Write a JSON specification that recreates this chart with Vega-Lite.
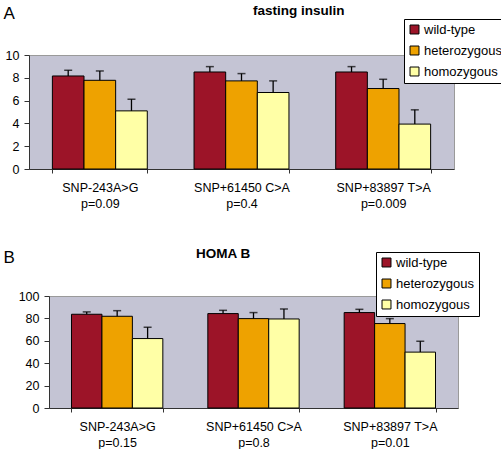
{
  "$schema": "https://vega.github.io/schema/vega-lite/v6.json",
  "padding": {"left": 2, "top": 3, "right": 0, "bottom": 0},
  "config": {
    "font": "Liberation Sans",
    "view": {"stroke": null},
    "axis": {"labelColor": "black", "domainColor": "#333333", "tickColor": "#333333", "grid": false},
    "axisY": {"labelOverlap": false}
  },
  "datasets": {
    "insulin": [
      {"snp": "SNP-243A>G|p=0.09", "genotype": "wild-type", "value": 8.16, "upper": 8.66},
      {"snp": "SNP-243A>G|p=0.09", "genotype": "heterozygous", "value": 7.78, "upper": 8.6},
      {"snp": "SNP-243A>G|p=0.09", "genotype": "homozygous", "value": 5.1, "upper": 6.12},
      {"snp": "SNP+61450 C>A|p=0.4", "genotype": "wild-type", "value": 8.51, "upper": 8.98},
      {"snp": "SNP+61450 C>A|p=0.4", "genotype": "heterozygous", "value": 7.73, "upper": 8.37},
      {"snp": "SNP+61450 C>A|p=0.4", "genotype": "homozygous", "value": 6.71, "upper": 7.73},
      {"snp": "SNP+83897 T>A|p=0.009", "genotype": "wild-type", "value": 8.51, "upper": 8.98},
      {"snp": "SNP+83897 T>A|p=0.009", "genotype": "heterozygous", "value": 7.06, "upper": 7.87},
      {"snp": "SNP+83897 T>A|p=0.009", "genotype": "homozygous", "value": 3.94, "upper": 5.19}
    ],
    "homa": [
      {"snp": "SNP-243A>G|p=0.15", "genotype": "wild-type", "value": 83.7, "upper": 85.8},
      {"snp": "SNP-243A>G|p=0.15", "genotype": "heterozygous", "value": 81.9, "upper": 86.9},
      {"snp": "SNP-243A>G|p=0.15", "genotype": "homozygous", "value": 62.0, "upper": 72.1},
      {"snp": "SNP+61450 C>A|p=0.8", "genotype": "wild-type", "value": 84.3, "upper": 87.2},
      {"snp": "SNP+61450 C>A|p=0.8", "genotype": "heterozygous", "value": 79.8, "upper": 85.2},
      {"snp": "SNP+61450 C>A|p=0.8", "genotype": "homozygous", "value": 79.5, "upper": 88.4},
      {"snp": "SNP+83897 T>A|p=0.01", "genotype": "wild-type", "value": 85.2, "upper": 88.1},
      {"snp": "SNP+83897 T>A|p=0.01", "genotype": "heterozygous", "value": 75.4, "upper": 79.8},
      {"snp": "SNP+83897 T>A|p=0.01", "genotype": "homozygous", "value": 49.9, "upper": 59.6}
    ]
  },
  "spacing": 36,
  "resolve": {
    "scale": {"x": "independent", "y": "independent", "xOffset": "independent", "color": "independent"},
    "legend": {"color": "independent"},
    "axis": {"x": "independent", "y": "independent"}
  },
  "vconcat": [
    {
      "width": 425,
      "height": 114,
      "view": {"fill": "#c4c4d4", "stroke": "#9a9a9a"},
      "data": {"name": "insulin"},
      "title": {"text": "fasting insulin", "anchor": "start", "frame": "group", "dx": 224, "dy": 24, "offset": 0, "fontSize": 13.5, "fontWeight": "bold", "color": "black", "baseline": "alphabetic"},
      "encoding": {
        "x": {"field": "snp", "type": "nominal", "sort": null,
          "scale": {"paddingInner": 0.33, "paddingOuter": 0.165},
          "axis": {"title": null, "labelAngle": 0, "tickBand": "extent", "tickSize": 4, "labelPadding": 8, "labelFontSize": 12.5, "labelLineHeight": 16, "labelExpr": "split(datum.label, '|')"}},
        "xOffset": {"field": "genotype", "type": "nominal", "sort": ["wild-type", "heterozygous", "homozygous"], "scale": {"paddingInner": 0, "paddingOuter": 0}}
      },
      "layer": [
        {
          "mark": {"type": "bar", "stroke": "black", "strokeWidth": 1},
          "encoding": {
            "y": {"field": "value", "type": "quantitative", "scale": {"domain": [0, 10]},
              "axis": {"title": "A", "titleAngle": 0, "titleX": -26, "titleY": -37, "titleAlign": "left", "titleBaseline": "alphabetic", "titleFontSize": 17, "titleFontWeight": "normal", "titleColor": "black", "values": [0, 2, 4, 6, 8, 10], "labelOverlap": false, "tickSize": 5, "labelPadding": 5, "labelFontSize": 12.5}},
            "color": {"field": "genotype", "type": "nominal",
              "scale": {"domain": ["wild-type", "heterozygous", "homozygous"], "range": ["#9c1428", "#eea200", "#ffffa6"]},
              "legend": {"title": null, "orient": "none", "legendX": 375, "legendY": -36, "strokeColor": "black", "fillColor": "white", "padding": 4, "symbolType": "square", "symbolSize": 80, "symbolStrokeColor": "black", "symbolStrokeWidth": 1, "labelFontSize": 13, "labelColor": "black", "rowPadding": 7, "labelOffset": 3, "labelLimit": 200}}
          }
        },
        {
          "mark": {"type": "rule", "color": "black", "strokeWidth": 1.3},
          "encoding": {"y": {"field": "value", "type": "quantitative", "axis": {"values": [0, 2, 4, 6, 8, 10], "labelOverlap": false}}, "y2": {"field": "upper"}}
        },
        {
          "mark": {"type": "tick", "color": "black", "size": 8, "thickness": 1.5},
          "encoding": {"y": {"field": "upper", "type": "quantitative", "axis": {"values": [0, 2, 4, 6, 8, 10], "labelOverlap": false}}}
        }
      ]
    },
    {
      "spacing": 0,
      "bounds": "flush",
      "hconcat": [
        {
          "width": 20,
          "height": 10,
          "view": {"stroke": null, "fill": null},
          "data": {"values": [{}]},
          "mark": {"type": "point", "opacity": 0}
        },
        {
          "width": 409,
          "height": 112,
          "view": {"fill": "#c4c4d4", "stroke": "#9a9a9a"},
          "data": {"name": "homa"},
          "title": {"text": "HOMA B", "anchor": "start", "frame": "group", "dx": 147, "dy": 23, "offset": 0, "fontSize": 13.5, "fontWeight": "bold", "color": "black", "baseline": "alphabetic"},
          "encoding": {
            "x": {"field": "snp", "type": "nominal", "sort": null,
              "scale": {"paddingInner": 0.33, "paddingOuter": 0.165},
              "axis": {"title": null, "labelAngle": 0, "tickBand": "extent", "tickSize": 4, "labelPadding": 8, "labelFontSize": 12.5, "labelLineHeight": 16, "labelExpr": "split(datum.label, '|')"}},
            "xOffset": {"field": "genotype", "type": "nominal", "sort": ["wild-type", "heterozygous", "homozygous"], "scale": {"paddingInner": 0, "paddingOuter": 0}}
          },
          "layer": [
            {
              "mark": {"type": "bar", "stroke": "black", "strokeWidth": 1},
              "encoding": {
                "y": {"field": "value", "type": "quantitative", "scale": {"domain": [0, 100]},
                  "axis": {"title": "B", "titleAngle": 0, "titleX": -46, "titleY": -34, "titleAlign": "left", "titleBaseline": "alphabetic", "titleFontSize": 17, "titleFontWeight": "normal", "titleColor": "black", "values": [0, 20, 40, 60, 80, 100], "labelOverlap": false, "tickSize": 5, "labelPadding": 5, "labelFontSize": 12.5}},
                "color": {"field": "genotype", "type": "nominal",
                  "scale": {"domain": ["wild-type", "heterozygous", "homozygous"], "range": ["#9c1428", "#eea200", "#ffffa6"]},
                  "legend": {"title": null, "orient": "none", "legendX": 347, "legendY": -44, "strokeColor": "black", "fillColor": "white", "padding": 4, "symbolType": "square", "symbolSize": 80, "symbolStrokeColor": "black", "symbolStrokeWidth": 1, "labelFontSize": 13, "labelColor": "black", "rowPadding": 7, "labelOffset": 3, "labelLimit": 200}}
              }
            },
            {
              "mark": {"type": "rule", "color": "black", "strokeWidth": 1.3},
              "encoding": {"y": {"field": "value", "type": "quantitative", "axis": {"values": [0, 20, 40, 60, 80, 100], "labelOverlap": false}}, "y2": {"field": "upper"}}
            },
            {
              "mark": {"type": "tick", "color": "black", "size": 8, "thickness": 1.5},
              "encoding": {"y": {"field": "upper", "type": "quantitative", "axis": {"values": [0, 20, 40, 60, 80, 100], "labelOverlap": false}}}
            }
          ]
        }
      ]
    }
  ]
}
